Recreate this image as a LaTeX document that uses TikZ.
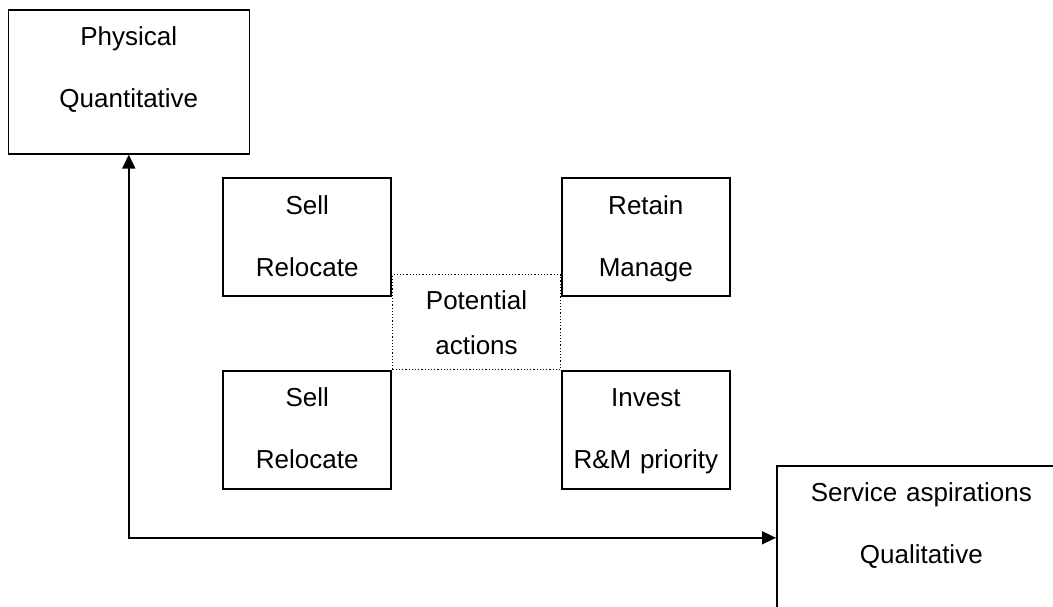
\documentclass[tikz,border=0pt]{standalone}
\usepackage{fontspec}
\setmainfont{Liberation Sans}
\usepackage{tikz}
\usetikzlibrary{arrows.meta,positioning}
\tikzset{%
	block/.style    = {draw, rectangle, line width=0.8pt, inner sep=0pt, align=center, font=\fontsize{13pt}{31pt}\selectfont},
	axisbox/.style  = {block, text width=#1, minimum width=#1, text height=18pt, text depth=54pt},
	action/.style   = {block, text width=84pt, minimum width=84pt, text height=18pt, text depth=41pt},
	potential/.style= {block, line width=0.5pt, dash pattern=on 0.6pt off 1pt, text width=84pt, minimum width=84pt, text height=17.5pt, text depth=30pt, font=\fontsize{13pt}{22.5pt}\selectfont},
	arrow/.style    = {line width=0.8pt, >={Triangle[length=7pt,width=6.5pt]}, <->},
}

\begin{document}
\begin{tikzpicture}
	\useasboundingbox (0,0) rectangle (526.5pt,-303pt);
	% potential actions in the middle
	\node [potential, anchor=north west] (pot) at (196pt,-137pt) {Potential\\actions};
	\node [action] (sellup) [above left=-11.5pt and 0pt of pot.north west] {Sell\\Relocate};
	\node [action] (retain) [above right=-11.5pt and 0pt of pot.north east] {Retain\\Manage};
	\node [action] (selldown) [below left=0pt and 0pt of pot.south west] {Sell\\Relocate};
	\node [action] (invest) [below right=0pt and 0pt of pot.south east] {Invest\\R\&M priority};
	
	% axes
	\node [axisbox=120.5pt, anchor=north west] (phys) at (3.75pt,-4.5pt) {Physical\\Quantitative};
	\node [axisbox=144.5pt, anchor=north west] (serv) at (388pt,-232.5pt) {Service aspirations\\Qualitative};
	
	\draw[arrow] (phys) |- (serv);
\end{tikzpicture}
\end{document}
